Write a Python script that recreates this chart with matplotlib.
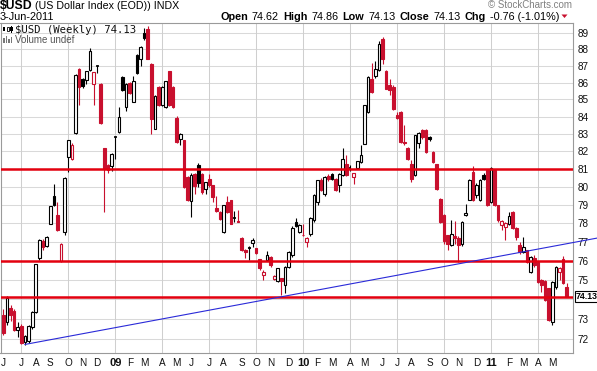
import matplotlib
matplotlib.use('Agg')
import matplotlib.pyplot as plt
import matplotlib.transforms as mtransforms
from matplotlib.patches import Rectangle, Polygon
from matplotlib.ticker import NullLocator, NullFormatter, FixedLocator
import numpy as np
import pandas as pd

# ---------------- data ----------------
start_week = '2008-06-02'
opens = [73.2, 72.85, 73.55, 73.4, 72.45, 72.65, 71.85, 71.87, 72.6, 73.37,
         76.14, 77.07, 76.79, 77.99, 79.5, 78.48, 75.98, 77.52, 81.67, 81.54,
         83.06, 86.8, 86.24, 86.14, 86.74, 85.94, 86.98, 85.9, 82.19, 81.2,
         81.17, 82.8, 83.1, 86.34, 84.55, 86.0, 84.88, 87.66, 87.4, 89.03,
         89.24, 87.14, 83.3, 85.74, 84.69, 84.55, 86.68, 85.74, 83.91, 82.72,
         82.62, 80.55, 79.2, 80.7, 81.2, 80.74, 79.9, 80.45, 80.09, 78.84,
         78.62, 77.54, 79.17, 79.26, 78.25, 78.15, 77.2, 76.6, 76.7, 76.93,
         76.66, 76.08, 75.26, 76.05, 76.22, 75.03, 74.92, 75.09, 74.74, 75.7,
         76.3, 78.07, 77.56, 77.4, 77.0, 77.41, 78.16, 79.17, 80.37, 79.58,
         80.6, 80.74, 80.46, 80.09, 80.64, 81.3, 81.1, 80.55, 81.07, 81.4,
         82.44, 84.27, 86.24, 86.4, 86.74, 88.65, 86.68, 85.84, 85.74, 84.07,
         84.27, 82.55, 82.19, 81.3, 80.68, 82.5, 83.2, 83.2, 82.8, 81.95,
         81.3, 79.35, 78.44, 77.35, 76.86, 77.3, 77.21, 76.91, 78.45, 79.3,
         80.83, 79.54, 79.26, 80.68, 80.93, 79.17, 80.93, 78.99, 77.93, 77.8,
         77.95, 78.6, 77.75, 76.86, 76.47, 76.55, 75.43, 76.15, 75.94, 75.0,
         74.93, 74.56, 72.85, 74.64, 75.42, 76.12, 74.62]
highs = [73.5, 74.15, 73.7, 73.5, 72.85, 72.75, 72.2, 72.7, 73.4, 75.85,
         77.15, 77.15, 77.3, 78.97, 80.18, 79.17, 76.95, 80.55, 82.65, 82.45,
         86.5, 86.85, 86.3, 86.7, 88.1, 86.65, 87.04, 85.95, 82.2, 81.3,
         81.9, 82.85, 84.56, 86.4, 86.0, 86.05, 86.4, 87.7, 88.2, 89.3,
         89.45, 87.2, 85.25, 85.8, 85.8, 86.1, 86.7, 85.8, 84.05, 83.05,
         82.65, 80.6, 80.75, 80.8, 81.35, 80.8, 80.3, 80.74, 80.1, 79.5,
         78.65, 79.0, 79.5, 79.3, 78.7, 78.72, 77.25, 76.65, 76.8, 77.2,
         76.7, 76.1, 75.5, 76.5, 76.25, 75.25, 75.65, 75.1, 75.75, 76.5,
         77.85, 78.3, 77.95, 77.98, 77.25, 78.35, 79.6, 80.4, 80.5, 80.6,
         80.74, 80.8, 80.5, 80.8, 82.19, 81.77, 81.2, 80.8, 81.45, 82.34,
         84.7, 86.4, 87.2, 87.3, 88.5, 88.75, 86.75, 86.2, 85.85, 84.25,
         84.3, 83.5, 82.25, 81.5, 82.96, 83.1, 83.3, 83.3, 82.85, 82.0,
         81.3, 79.4, 78.5, 77.4, 78.16, 78.15, 77.3, 78.15, 79.05, 80.45,
         81.15, 80.2, 80.45, 80.75, 81.0, 81.1, 81.0, 79.0, 78.2, 78.05,
         78.6, 78.65, 77.8, 77.0, 77.27, 76.6, 76.25, 76.3, 76.0, 75.05,
         75.0, 74.6, 74.95, 75.75, 75.7, 76.25, 74.86]
lows = [72.2, 72.7, 72.9, 72.4, 72.1, 71.75, 71.67, 71.8, 72.5, 73.3,
        76.05, 76.6, 76.75, 77.95, 78.95, 77.6, 75.95, 77.4, 80.83, 81.5,
        83.0, 84.65, 85.7, 85.9, 86.7, 84.65, 86.6, 83.55, 78.62, 80.8,
        80.9, 81.58, 83.05, 85.5, 84.3, 85.3, 84.85, 86.5, 87.0, 88.6,
        87.4, 83.0, 83.25, 84.6, 84.6, 84.5, 84.6, 84.5, 82.5, 82.35,
        79.95, 79.2, 78.35, 79.6, 80.0, 79.6, 79.63, 80.0, 79.17, 78.6,
        78.2, 77.5, 78.55, 77.95, 78.05, 78.08, 76.5, 76.14, 76.05, 76.75,
        76.35, 75.53, 75.0, 76.0, 75.7, 74.98, 74.9, 74.22, 74.35, 75.6,
        76.2, 77.8, 77.5, 77.3, 76.73, 77.3, 78.1, 79.02, 79.75, 79.5,
        80.35, 80.4, 79.75, 79.72, 80.6, 80.6, 80.9, 80.18, 81.0, 81.35,
        82.4, 84.2, 85.4, 86.3, 86.7, 87.14, 85.6, 85.29, 84.4, 83.85,
        82.5, 82.35, 81.5, 80.25, 80.6, 82.2, 82.7, 81.9, 82.6, 81.35,
        79.85, 78.0, 76.9, 76.56, 76.8, 76.9, 75.94, 76.8, 78.4, 79.25,
        79.2, 79.4, 79.2, 80.4, 78.95, 79.1, 78.95, 78.1, 77.63, 77.09,
        77.9, 77.7, 77.09, 76.38, 76.4, 75.9, 75.35, 75.7, 74.85, 74.4,
        73.9, 72.9, 72.7, 74.55, 75.0, 74.8, 74.13]
closes = [72.3, 74.05, 73.2, 72.45, 72.6, 71.8, 72.14, 72.65, 73.36, 75.82,
          77.11, 76.75, 77.25, 78.95, 78.99, 77.63, 76.91, 80.48, 82.62, 82.37,
          86.47, 85.74, 85.8, 86.68, 87.88, 86.64, 87.0, 83.6, 81.02, 80.93,
          81.87, 82.82, 84.0, 85.55, 85.94, 85.37, 86.07, 86.56, 88.15, 88.7,
          87.44, 83.88, 85.2, 84.65, 85.74, 86.07, 84.65, 84.55, 82.53, 83.0,
          80.0, 79.26, 80.69, 80.05, 80.24, 79.7, 80.27, 80.1, 79.45, 78.66,
          78.26, 78.99, 78.63, 77.99, 78.27, 78.1, 76.57, 76.45, 76.75, 77.1,
          76.4, 75.62, 75.44, 76.31, 75.78, 75.2, 75.6, 74.92, 75.7, 76.49,
          77.75, 77.86, 77.91, 77.35, 77.21, 78.29, 79.53, 80.37, 79.81, 80.56,
          80.42, 80.46, 79.81, 80.74, 81.57, 80.68, 81.07, 80.79, 81.43, 81.81,
          84.65, 86.34, 85.45, 86.84, 88.35, 87.44, 85.64, 85.55, 84.45, 83.9,
          82.53, 82.45, 81.54, 80.45, 82.94, 83.05, 82.83, 81.95, 82.7, 81.4,
          79.9, 78.07, 77.08, 76.91, 77.45, 77.2, 76.86, 78.07, 78.55, 80.37,
          79.26, 80.09, 80.37, 80.46, 78.99, 81.07, 78.99, 78.16, 78.11, 78.0,
          78.4, 77.77, 77.27, 76.47, 76.72, 75.96, 76.2, 75.77, 74.9, 74.75,
          73.95, 72.93, 74.9, 75.67, 75.62, 74.82, 74.13]
level_lines = [81.0, 76.0, 74.13]
trend_pts = [(6, 71.72), (164.4, 77.21)]
y_ticks = list(range(72, 90))
last_close = 74.13
header_pieces = [('Open', 'bold'), ('74.62', 'normal'), ('High', 'bold'),
                 ('74.86', 'normal'), ('Low', 'bold'), ('74.13', 'normal'),
                 ('Close', 'bold'), ('74.13', 'normal'), ('Chg', 'bold'),
                 ('-0.76 (-1.01%)', 'normal')]

# ---------------- figure ----------------
W, H = 597, 371
plt.rcParams['font.family'] = ['Liberation Sans', 'DejaVu Sans']
fig = plt.figure(figsize=(W / 100, H / 100), dpi=100)
fig.patch.set_facecolor('white')
renderer = fig.canvas.get_renderer()

def fx(x):
    return x / W

def fy(y):
    return 1 - y / H

AX_L, AX_R, AX_T, AX_B = 0.5, 573, 22.7, 352.7
ax = fig.add_axes([fx(AX_L), fy(AX_B), (AX_R - AX_L) / W, (AX_B - AX_T) / H])
ax.set_facecolor('white')

RED = '#c8102e'
BLACK = '#000000'
LINE_RED = '#e3000f'
GRID = '#d9d9d9'

n = len(closes)
weeks = pd.date_range(start_week, periods=n, freq='7D')
idx = np.arange(n)

ax.set_yscale('log')
ax.set_xlim(-0.775, 157.73)
ax.set_ylim(71.31, 89.65)

# grid
for t in y_ticks:
    ax.axhline(t, color=GRID, lw=0.75, zorder=0)

tick_pos, tick_lab, tick_bold = [], [], []
for i, d in enumerate(weeks):
    if i == 0 or d.month != weeks[i - 1].month:
        tick_pos.append(i)
        if d.month == 1:
            tick_lab.append(f"{d.year % 100:02d}")
            tick_bold.append(True)
        else:
            tick_lab.append(d.strftime('%b')[0])
            tick_bold.append(False)
        if d.month in (1, 4, 7, 10) and i > 0:
            ax.axvline(i, color='#cfcfcf', lw=0.75, zorder=0)

# candles
bw = 0.74
for i in idx:
    o, h, l, c = opens[i], highs[i], lows[i], closes[i]
    prev = closes[i - 1] if i > 0 else o
    col = BLACK if c >= prev else RED
    hollow = c > o
    ax.vlines(i, l, h, color=col, lw=0.8, zorder=3)
    lo, hi = min(o, c), max(o, c)
    if hi - lo < 0.04:
        ax.hlines(c, i - bw / 2, i + bw / 2, color=col, lw=1.2, zorder=4)
    else:
        ax.add_patch(Rectangle((i - bw / 2, lo), bw, hi - lo,
                               facecolor='white' if hollow else col,
                               edgecolor=col, lw=0.8, zorder=4))

# level lines
for lv in level_lines:
    ax.axhline(lv, color=LINE_RED, lw=1.8, zorder=5)

# trend line
ax.plot([p[0] for p in trend_pts], [p[1] for p in trend_pts], color='#2a2ad8',
        lw=0.8, zorder=6, clip_on=False)

# axes styling
for s in ax.spines.values():
    s.set_color('#9a9a9a')
    s.set_linewidth(0.8)
ax.yaxis.tick_right()
ax.yaxis.set_major_locator(FixedLocator(y_ticks))
ax.yaxis.set_minor_locator(NullLocator())
ax.yaxis.set_minor_formatter(NullFormatter())
ax.set_yticklabels(['' if t == 74 else str(t) for t in y_ticks])
ax.tick_params(axis='y', length=0, pad=3, labelsize=7.2, colors='#111111')
ax.set_xticks(tick_pos)
ax.set_xticklabels(tick_lab)
ax.tick_params(axis='x', length=0, pad=3.5, labelsize=7.2, colors='#111111')
for lab, b in zip(ax.get_xticklabels(), tick_bold):
    if b:
        lab.set_fontweight('bold')
        lab.set_fontsize(8)

# last value tag, fitted inside the right edge
trans = mtransforms.blended_transform_factory(ax.transAxes, ax.transData)
ax.text(1.0045, last_close, f"{last_close:.2f}", transform=trans, ha='left', va='center',
        fontsize=6.3, fontweight='bold', color='black', zorder=10, clip_on=False,
        bbox=dict(boxstyle='square,pad=0.1', fc='white', ec='black', lw=0.8))

# ---------------- header texts ----------------
fig.text(fx(0), fy(8.6), '$USD', fontsize=8.8, fontweight='bold', va='baseline')
fig.text(fx(35), fy(8.6), '(US Dollar Index (EOD)) INDX', fontsize=7.7, va='baseline')
fig.text(fx(0), fy(19.5), '3-Jun-2011', fontsize=7.8, va='baseline')
fig.text(fx(572), fy(8.0), '\u00a9 StockCharts.com', fontsize=7, va='baseline',
         ha='right', color='#808080')

# sequential layout of the quote line, right edge at x = 559
gap = 4.0
fs = 7.8
items = []
for txt, wt in header_pieces:
    t = fig.text(0, fy(19.5), txt, fontsize=fs, fontweight=wt, va='baseline')
    wpx = t.get_window_extent(renderer).width
    items.append((t, wpx))
total = sum(w for _, w in items) + gap * (len(items) - 1)
xcur = 559 - total
for t, wpx in items:
    t.set_x(fx(xcur))
    xcur += wpx + gap
fig.add_artist(Polygon([(fx(561.5), fy(14.5)), (fx(567.5), fy(14.5)), (fx(564.5), fy(18))],
                       closed=True, transform=fig.transFigure, fc=RED, ec='none'))

# legend inside plot
fig.text(fx(15), fy(32.7), '$USD (Weekly) 74.13', fontsize=7.7, va='baseline',
         family='DejaVu Sans Mono', color='#111111')
fig.text(fx(15), fy(42.7), 'Volume undef', fontsize=7, va='baseline', color='#555555')

def prect(x, y, w, h, fc, ec=None, lw=0.0):
    fig.add_artist(Rectangle((fx(x), fy(y + h)), w / W, h / H, transform=fig.transFigure,
                             fc=fc, ec=ec if ec else fc, lw=lw))

# price icon
prect(3.5, 25, 0.8, 8, '#000000')
prect(2.5, 27, 2.8, 4, '#000000')
prect(7.5, 25, 0.8, 8, '#000000')
prect(6.5, 26.5, 2.8, 4, 'white', '#000000', 0.6)
prect(11, 25.5, 0.8, 7, '#000000')
prect(10, 27, 2.8, 3.5, '#000000')
# volume icon
for xx, hh in [(3, 5), (5.5, 7), (8, 4), (10.5, 6)]:
    prect(xx, 43 - hh, 1.8, hh, '#777777')

fig.savefig('out.png', dpi=100, facecolor='white')
